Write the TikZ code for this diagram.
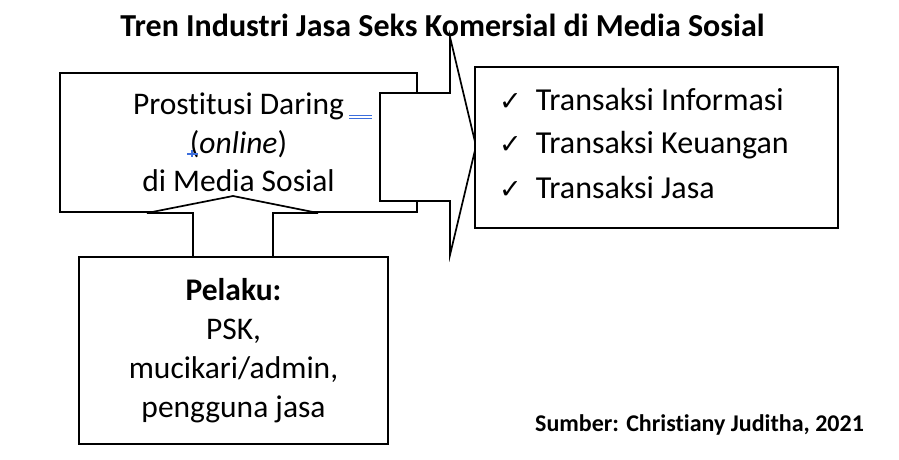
\documentclass[tikz,border=0pt]{standalone}
\usepackage{fontspec}
\setmainfont{Carlito}[Ligatures=NoCommon]
\newfontfamily\symfont{DejaVu Sans}
\begin{document}
\begin{tikzpicture}[x=1pt,y=-1pt,
  boxline/.style={draw=black,line width=1.7pt,fill=white},
  arrowline/.style={draw=black,line width=1.7pt,fill=white,line join=miter},
  marks/.style={draw={rgb,255:red,60;green,110;blue,220},line width=1.2pt}]
\useasboundingbox[fill=white] (0,0) rectangle (899,459);
% title
\node[font=\bfseries\fontsize{32}{34}\selectfont, inner sep=0pt] (title) at (442.5,25) {Tren Industri Jasa Seks Komersial di Media Sosial};
% main box
\node[boxline, minimum width=357pt, minimum height=139pt, inner sep=0pt, align=center,
      font=\fontsize{31.5}{38.5}\selectfont] (main) at (238.5,142.5)
  {Prostitusi Daring\\(\textit{online})\\di Media Sosial};
% right block arrow
\draw[arrowline] (380,93) -- (450,93) -- (450,37) -- (476,146) -- (450,255) -- (450,201) -- (380,201) -- cycle;
% right box
\node[boxline, minimum width=363pt, minimum height=161pt, inner sep=0pt] (list) at (656.5,147.5) {};
\node[anchor=west, inner sep=0pt, align=left, font=\fontsize{32}{44}\selectfont] (items) at (499,143)
  {{\symfont\fontsize{27}{44}\selectfont ✓}\hspace{14pt}Transaksi Informasi\\
   {\symfont\fontsize{27}{44}\selectfont ✓}\hspace{14pt}Transaksi Keuangan\\
   {\symfont\fontsize{27}{44}\selectfont ✓}\hspace{14pt}Transaksi Jasa};
% up block arrow
\draw[arrowline] (193,257) -- (193,213) -- (147,213) -- (233,196) -- (318,213) -- (273,213) -- (273,257);
% bottom box
\node[boxline, minimum width=309pt, minimum height=187pt, inner sep=0pt, align=center,
      font=\fontsize{31.5}{39}\selectfont] (actors) at (233.5,350.5)
  {\textbf{Pelaku:}\\PSK,\\mucikari/admin,\\pengguna jasa};
% source
\node[font=\bfseries\fontsize{24}{26}\selectfont, inner sep=0pt] (source) at (699.5,425) {Sumber: Christiany Juditha, 2021};
% editing marks
\coordinate (m1a) at (349,115.5); \coordinate (m1b) at (372,115.5);
\coordinate (m2a) at (349,118.5); \coordinate (m2b) at (372,118.5);
\draw[marks] (m1a) -- (m1b); \draw[marks] (m2a) -- (m2b);
\coordinate (m3a) at (187,154); \coordinate (m3b) at (198,154);
\coordinate (m3c) at (192,150); \coordinate (m3d) at (192,157);
\draw[marks] (m3a) -- (m3b); \draw[marks] (m3c) -- (m3d);
\end{tikzpicture}
\end{document}
